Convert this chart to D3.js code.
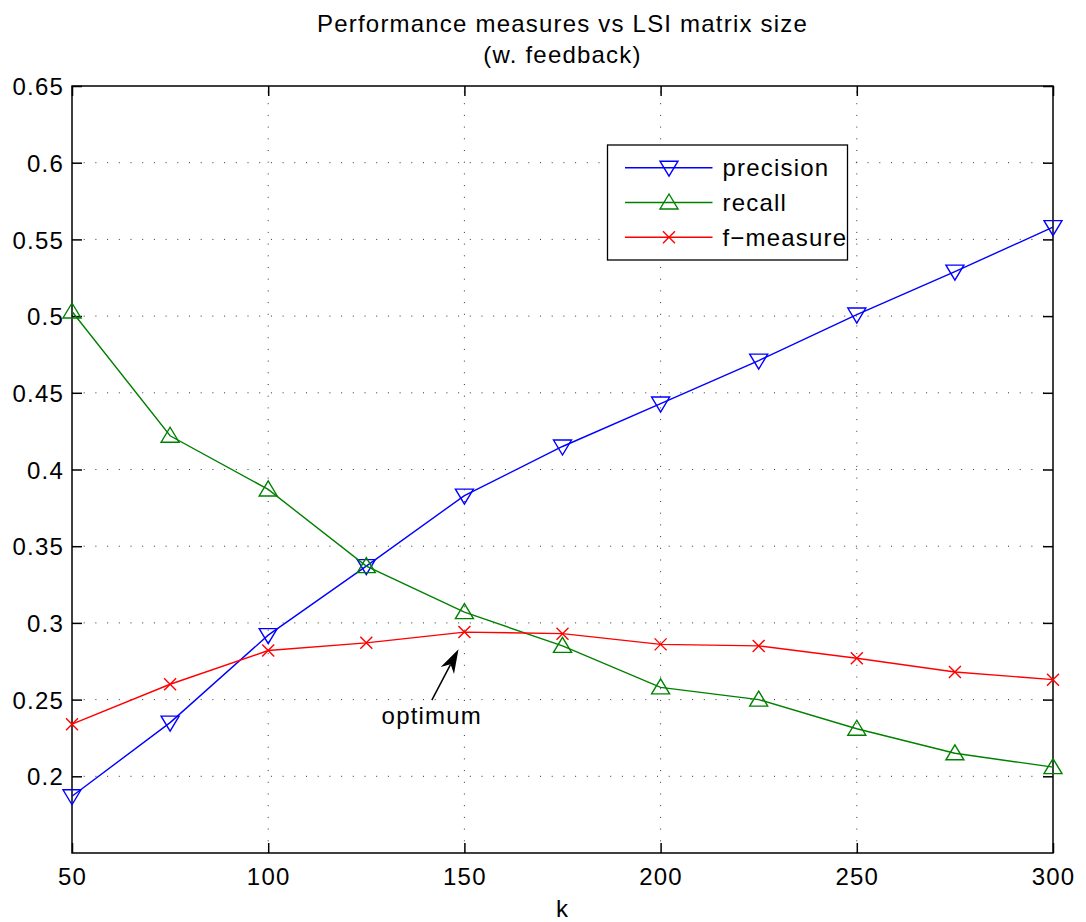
<!DOCTYPE html>
<html>
<head>
<meta charset="utf-8">
<script src="https://cdn.jsdelivr.net/npm/d3@7"></script>
<style>
  html, body { margin: 0; padding: 0; background: #fff; }
  svg text { font-family: "Liberation Sans", Arial, Helvetica, sans-serif; font-size: 24px; letter-spacing: 1.2px; fill: #000; }
</style>
</head>
<body>
<svg id="chart" width="1086" height="922"></svg>
<script>
const kValues = [50, 75, 100, 125, 150, 175, 200, 225, 250, 275, 300];
const precision = [0.187, 0.235, 0.292, 0.337, 0.383, 0.415, 0.443, 0.471, 0.501, 0.529, 0.558];
const recall    = [0.503, 0.422, 0.387, 0.337, 0.307, 0.285, 0.258, 0.250, 0.231, 0.215, 0.206];
const fmeasure  = [0.234, 0.260, 0.282, 0.287, 0.294, 0.293, 0.286, 0.285, 0.277, 0.268, 0.263];
const seriesNames = ["precision", "recall", "f\u2212measure"];
const xTicks = [50, 100, 150, 200, 250, 300];
const yTicks = [0.2, 0.25, 0.3, 0.35, 0.4, 0.45, 0.5, 0.55, 0.6, 0.65];
const titleLines = ["Performance measures vs LSI matrix size", "(w. feedback)"];
const xLabel = "k";
const annotationText = "optimum";
const arrowTail = [141.7, 0.2497];
const arrowTip = [148.5, 0.2828];
const textPos = [141.7, 0.234];

const W = 1086, H = 922;
const margin = {left: 72, top: 86, right: 33, bottom: 69};
const svg = d3.select("#chart");
const x = d3.scaleLinear().domain([50, 300]).range([margin.left, W - margin.right]);
const y = d3.scaleLinear().domain([0.15, 0.65]).range([H - margin.bottom, margin.top]);
const x0 = x.range()[0], x1 = x.range()[1], y0 = y.range()[0], y1 = y.range()[1];

// grid
const grid = svg.append("g");
grid.selectAll(".vg").data(xTicks.filter(d => d > 50 && d < 300)).enter().append("line")
  .attr("x1", d => x(d)).attr("x2", d => x(d)).attr("y1", y0).attr("y2", y1)
  .attr("stroke", "#333").attr("stroke-width", 1).attr("stroke-dasharray", "1,10.7");
grid.selectAll(".hg").data(yTicks.filter(d => d < 0.65)).enter().append("line")
  .attr("x1", x0).attr("x2", x1).attr("y1", d => y(d)).attr("y2", d => y(d))
  .attr("stroke", "#333").attr("stroke-width", 1).attr("stroke-dasharray", "1,10.7");

// axes (box with inward ticks)
const tl = 10;
const axB = d3.axisBottom(x).tickValues(xTicks).tickSizeInner(-tl).tickSizeOuter(0).tickPadding(15).tickFormat(d3.format("d"));
const axT = d3.axisTop(x).tickValues(xTicks).tickSizeInner(-tl).tickSizeOuter(0).tickFormat("");
const axL = d3.axisLeft(y).tickValues(yTicks).tickSizeInner(-tl).tickSizeOuter(0).tickPadding(8).tickFormat(d => d3.format("")(+d.toFixed(2)));
const axR = d3.axisRight(y).tickValues(yTicks).tickSizeInner(-tl).tickSizeOuter(0).tickFormat("");
function styleAxis(g) {
  g.select(".domain").remove();
  g.selectAll(".tick line").attr("stroke", "#000").attr("stroke-width", 1.5);
  g.selectAll("text").style("font-size", "24px").attr("fill", "#000");
}
svg.append("g").attr("transform", `translate(0,${y0})`).call(axB).call(styleAxis);
svg.append("g").attr("transform", `translate(0,${y1})`).call(axT).call(styleAxis);
svg.append("g").attr("transform", `translate(${x0},0)`).call(axL).call(styleAxis)
  .selectAll("text").attr("dy", "0.36em");
svg.append("g").attr("transform", `translate(${x1},0)`).call(axR).call(styleAxis);
svg.append("rect").attr("x", x0).attr("y", y1).attr("width", x1 - x0).attr("height", y0 - y1)
  .attr("fill", "none").attr("stroke", "#000").attr("stroke-width", 1.5);

// series
const downTri = "M-9,-6.5L9,-6.5L0,8.5Z";
const upTri = "M-9,6.5L9,6.5L0,-8.5Z";
const xMark = "M-6,-6L6,6M-6,6L6,-6";
const series = [
  {name: seriesNames[0], vals: precision, color: "#0000ff", marker: downTri},
  {name: seriesNames[1], vals: recall, color: "#008000", marker: upTri},
  {name: seriesNames[2], vals: fmeasure, color: "#ff0000", marker: xMark}
];
const line = d3.line().x((d, i) => x(kValues[i])).y(d => y(d));
series.forEach(s => {
  const g = svg.append("g");
  g.append("path").datum(s.vals).attr("d", line).attr("fill", "none")
    .attr("stroke", s.color).attr("stroke-width", 1.4);
  g.selectAll("path.m").data(s.vals).enter().append("path").attr("class", "m")
    .attr("d", s.marker).attr("transform", (d, i) => `translate(${x(kValues[i])},${y(d)})`)
    .attr("fill", "none").attr("stroke", s.color).attr("stroke-width", 1.4);
});

// annotation arrow
const tx = x(arrowTail[0]), ty = y(arrowTail[1]);
const hx = x(arrowTip[0]), hy = y(arrowTip[1]);
const dx = hx - tx, dy = hy - ty, len = Math.hypot(dx, dy);
const ux = dx / len, uy = dy / len, px = -uy, py = ux;
const hl = 24, hw = 7.5, nb = 17;
svg.append("line").attr("x1", tx).attr("y1", ty)
  .attr("x2", hx - ux * nb).attr("y2", hy - uy * nb)
  .attr("stroke", "#000").attr("stroke-width", 1.5);
const head = [
  [hx, hy],
  [hx - ux * hl + px * hw, hy - uy * hl + py * hw],
  [hx - ux * nb, hy - uy * nb],
  [hx - ux * hl - px * hw, hy - uy * hl - py * hw]
];
svg.append("path").attr("d", "M" + head.map(p => p.join(",")).join("L") + "Z").attr("fill", "#000");
svg.append("text").attr("x", x(textPos[0])).attr("y", y(textPos[1]))
  .attr("text-anchor", "middle").text(annotationText);

// legend
const lg = svg.append("g");
lg.append("rect").attr("x", 607.5).attr("y", 145).attr("width", 240).attr("height", 115)
  .attr("fill", "#fff").attr("stroke", "#000").attr("stroke-width", 1.3);
series.forEach((s, i) => {
  const ly = 167.7 + i * 34.8;
  lg.append("line").attr("x1", 625).attr("x2", 712.5).attr("y1", ly).attr("y2", ly)
    .attr("stroke", s.color).attr("stroke-width", 1.4);
  lg.append("path").attr("d", s.marker).attr("transform", `translate(669,${ly})`)
    .attr("fill", "none").attr("stroke", s.color).attr("stroke-width", 1.4);
  lg.append("text").attr("x", 722.5).attr("y", ly).attr("dy", "0.36em").text(s.name);
});

// titles
const cx = (x0 + x1) / 2;
svg.append("text").attr("x", cx).attr("y", 32).attr("text-anchor", "middle").text(titleLines[0]);
svg.append("text").attr("x", cx).attr("y", 63).attr("text-anchor", "middle").text(titleLines[1]);
svg.append("text").attr("x", cx).attr("y", 917).attr("text-anchor", "middle").text(xLabel);
</script>
</body>
</html>
